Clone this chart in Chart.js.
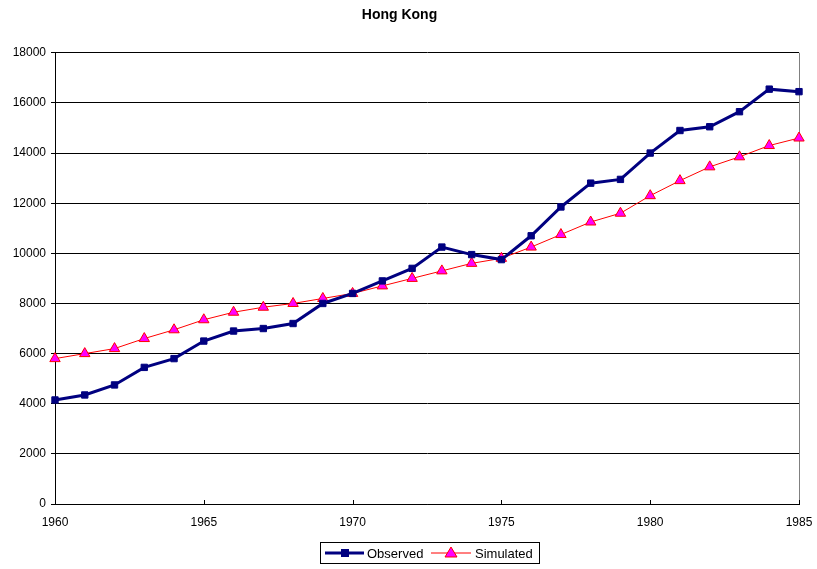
<!DOCTYPE html>
<html><head><meta charset="utf-8">
<script src="https://cdn.jsdelivr.net/npm/chart.js@4"></script>
<style>html,body{margin:0;padding:0;background:#fff;}#wrap{width:817px;height:569px;}</style>
</head><body><div id="wrap"><canvas id="c" width="817" height="569"></canvas></div>
<script>
const years = [1960,1961,1962,1963,1964,1965,1966,1967,1968,1969,1970,1971,1972,1973,1974,1975,1976,1977,1978,1979,1980,1981,1982,1983,1984,1985];
const observed = [4150,4350,4750,5450,5800,6500,6900,7000,7200,8000,8400,8900,9400,10250,9950,9750,10700,11850,12800,12950,14000,14900,15050,15650,16550,16450];
const simulated = [5800,6000,6200,6600,6950,7350,7650,7850,8000,8200,8400,8700,9000,9300,9600,9800,10250,10750,11250,11600,12300,12900,13450,13850,14300,14600];
const titleText = "Hong Kong";
const seriesNames = ["Observed","Simulated"];

const FONT = "'Liberation Sans', Arial, sans-serif";

const frame = {
  id:'frame',
  beforeDatasetsDraw(chart){
    const {ctx, chartArea:a} = chart;
    ctx.save();
    ctx.strokeStyle = '#808080'; ctx.lineWidth = 1;
    ctx.beginPath();
    ctx.moveTo(Math.round(a.right)+0.5, a.top); ctx.lineTo(Math.round(a.right)+0.5, a.bottom);
    ctx.stroke();
    const xs = chart.scales.x;
    ctx.strokeStyle = '#000';
    xs.ticks.forEach(t=>{
      const px = Math.round(xs.getPixelForValue(t.value))+0.5;
      ctx.beginPath(); ctx.moveTo(px, a.bottom); ctx.lineTo(px, a.bottom-4); ctx.stroke();
    });
    ctx.restore();
  },
  afterDraw(chart){
    const {ctx} = chart;
    ctx.save();
    const bx=320.5, by=542.5, bw=219, bh=21;
    ctx.fillStyle='#fff'; ctx.fillRect(bx,by,bw,bh);
    ctx.strokeStyle='#000'; ctx.lineWidth=1; ctx.strokeRect(bx,by,bw,bh);
    const cy = by + bh/2;
    const ds = chart.data.datasets;
    ctx.strokeStyle = ds[0].borderColor; ctx.lineWidth = 3;
    ctx.beginPath(); ctx.moveTo(325,cy); ctx.lineTo(364,cy); ctx.stroke();
    ctx.fillStyle = ds[0].pointBackgroundColor; ctx.fillRect(341,cy-4,8,8);
    ctx.fillStyle='#000'; ctx.font = '13px '+FONT; ctx.textBaseline='middle'; ctx.textAlign='left';
    ctx.fillText(ds[0].label, 367, cy+1);
    ctx.strokeStyle = ds[1].borderColor; ctx.lineWidth = 1;
    ctx.beginPath(); ctx.moveTo(431,cy); ctx.lineTo(471,cy); ctx.stroke();
    ctx.beginPath(); ctx.moveTo(451,cy-6); ctx.lineTo(457,cy+4); ctx.lineTo(445,cy+4); ctx.closePath();
    ctx.fillStyle = ds[1].pointBackgroundColor; ctx.fill(); ctx.strokeStyle=ds[1].pointBorderColor; ctx.stroke();
    ctx.fillStyle='#000';
    ctx.fillText(ds[1].label, 475, cy+1);
    ctx.restore();
  }
};

new Chart(document.getElementById('c'), {
  type:'line',
  data:{
    datasets:[
      {label:seriesNames[0], data:years.map((y,i)=>({x:y,y:observed[i]})), borderColor:'#000080', backgroundColor:'#000080',
       borderWidth:3, pointStyle:'rect', pointRadius:4.5, pointBackgroundColor:'#000080', pointBorderColor:'#000080', pointBorderWidth:1, tension:0, clip:false},
      {label:seriesNames[1], data:years.map((y,i)=>({x:y,y:simulated[i]})), borderColor:'#FF0000', backgroundColor:'#FF00FF',
       borderWidth:1, pointStyle:'triangle', pointRadius:6, pointBackgroundColor:'#FF00FF', pointBorderColor:'#FF0000', pointBorderWidth:1, tension:0, clip:false}
    ]
  },
  options:{
    responsive:false, animation:false,
    layout:{padding:{top:0,right:18,left:0,bottom:0}},
    plugins:{
      legend:{display:false},
      tooltip:{enabled:false},
      title:{display:true, text:titleText, color:'#000', font:{family:FONT, size:14, weight:'bold'}, padding:{top:7,bottom:29}}
    },
    scales:{
      x:{type:'linear', min:1960, max:1985,
         afterFit(s){s.height=65; s.paddingRight=0; s.paddingLeft=0;},
         ticks:{stepSize:5, color:'#000', font:{family:FONT,size:12}, padding:11, callback:v=>String(v)},
         grid:{drawOnChartArea:false, drawTicks:false, color:'#000'},
         border:{color:'#000', width:1}},
      y:{min:0, max:18000,
         afterFit(s){s.width=55; s.paddingTop=0; s.paddingBottom=0;},
         ticks:{stepSize:2000, color:'#000', font:{family:FONT,size:12}, padding:5, callback:v=>String(v)},
         grid:{color:'#000', lineWidth:1, drawTicks:true, tickLength:4, tickColor:'#000'},
         border:{color:'#000', width:1}}
    }
  },
  plugins:[frame]
});
</script></body></html>
